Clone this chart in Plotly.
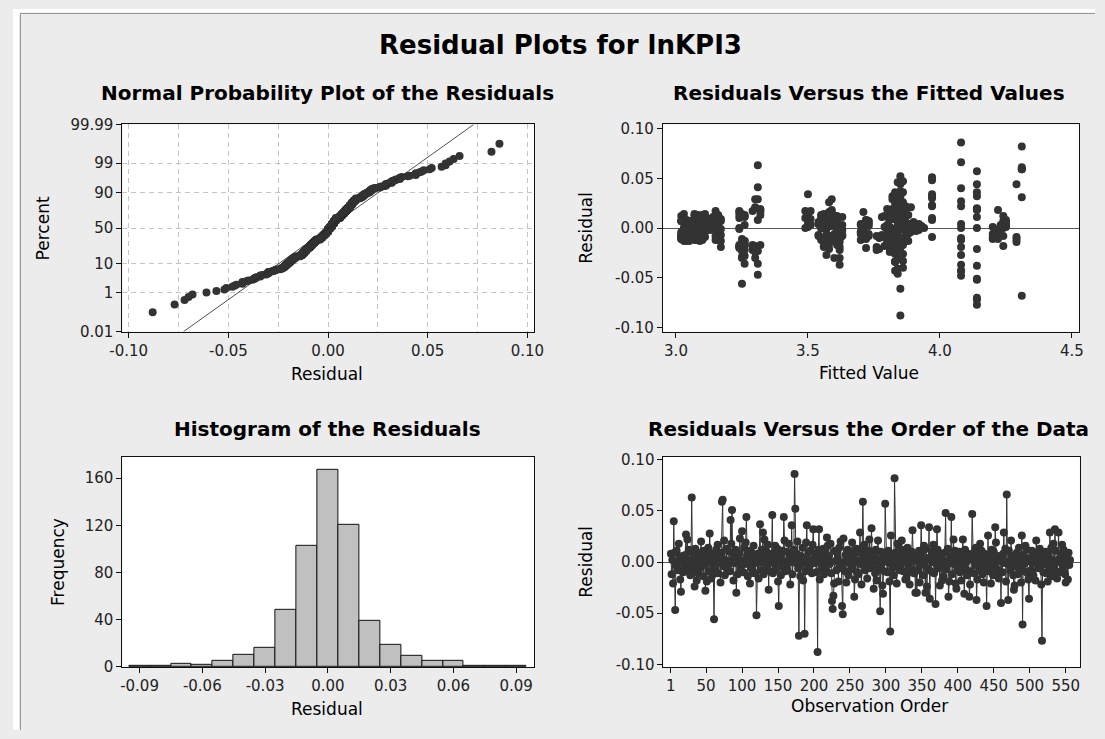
import plotly.graph_objects as go
from statistics import NormalDist

W, H = 1105, 739

# ---------------- data ----------------
# residuals in observation order, in thousandths
resid_milli = [
    8, -12, 2, -21, 40, 9, -47, -3, 11, 0, -8, 18, 4, -17, -29, -1, 6, -10, 3, -6,
    7, 27, -2, 22, -9, 12, 1, -13, 10, 63, -4, 3, -7, -24, 13, 0, -18, 6, -11, 2,
    -6, 9, 20, -1, 4, -14, 11, -3, -28, 7, -19, 1, 14, -9, 28, 2, -16, 8, -2, -12,
    -56, 3, -8, 12, -1, 17, -11, 6, 0, -20, 9, 59, 61, -4, 21, -13, 2, 13, -7, 1,
    -3, 10, -9, 41, 18, 51, 2, -18, 7, -1, 12, -30, 4, -12, 0, 8, 23, -6, -2, 30,
    1, -10, 14, -2, 19, 44, 6, -14, 3, 11, -21, -4, 9, -7, 0, 16, -11, 7, 2, -52,
    -1, 8, -16, 3, 37, -8, 12, 0, 29, -12, 22, 4, -6, 10, -3, 17, -27, 7, -9, 1,
    2, 46, -11, 9, -2, 16, -7, 4, 13, -19, -43, 0, 6, -13, 3, 11, -4, 44, 21, -9,
    -3, 10, -8, 1, 18, 7, -22, 0, 36, -12, 4, 12, 86, 52, -1, 8, 20, -6, -72, 2,
    -14, 6, -2, 14, -18, 3, -70, -9, 19, 36, 0, 9, -7, -4, 11, 2, -11, 17, 32, 1,
    -1, 8, -10, 3, -88, 12, 32, -17, 0, 7, -6, 4, 13, -12, -3, 10, -8, 24, 16, 2,
    6, -2, 18, -11, -38, -46, -33, -21, 11, 1, -8, 9, 3, -19, 14, -6, 20, -4, -43, -51,
    23, 0, -9, 7, -20, 3, 12, -13, -1, 10, 4, -7, 19, -3, 8, -34, -17, 2, 13, -10,
    1, -12, 9, 29, -2, -22, 14, 59, 4, 17, -8, 0, 6, -16, -4, 11, 22, -6, 2, 33,
    -3, 8, -26, 1, -11, 12, -18, 3, 21, -7, 0, -48, 10, -2, -23, -31, 7, -9, 57, 4,
    2, -10, 11, -1, -19, -68, 26, 6, -6, 3, -13, 82, 9, 0, -21, 18, -4, 13, -8, 4,
    -2, 21, 7, -9, 1, 12, -17, 3, -12, 14, -3, 8, -22, 0, -7, 10, 31, 4, -11, 2,
    -30, 6, -30, 1, -8, 11, -20, -3, 36, 9, 2, -13, 16, -1, -30, 13, -24, -6, 4, 34,
    -36, 3, -9, 10, 0, 17, -11, 7, -41, -2, 32, 12, -6, 4, -23, 8, -1, -18, 2, -14,
    1, 9, 48, -7, -3, 13, -34, -19, 0, 6, 44, -12, 3, 22, -2, 11, -21, -26, -8, 4,
    -1, 10, -10, 2, -18, 7, 22, -4, -31, 12, -7, 0, -13, 3, 8, -34, -22, -9, 4, 47,
    2, -11, 9, -3, 14, -37, -17, 1, 6, -8, 18, -1, 11, -12, 4, -20, 8, -6, 0, -43,
    -2, 26, -9, 7, 3, -21, 12, 0, -13, 10, -4, 34, 19, -7, 2, 6, -16, -11, 1, -40,
    3, -10, 8, 29, -1, 13, -19, 66, 0, -37, 11, -3, -8, 21, 4, 6, -13, -27, -23, 2,
    -4, 9, -12, 1, 14, -7, 3, -20, 26, -61, 7, -2, -9, 16, 0, 12, -11, -17, -36, 4,
    2, -8, 11, -1, -13, 6, 3, -18, 21, 0, 9, -6, -3, 13, 4, -22, -77, 8, -10, 1,
    -2, 10, -11, 3, -19, 7, -7, 29, 0, 14, -14, 2, 18, -4, 32, 11, -9, -16, 1, 29,
    3, -10, 8, -1, 17, -7, 12, 0, -12, -20, 6, 4, -17, 9, -3, 2,
]

# fitted values, same order
fitted = [
    3.04, 3.07, 3.84, 3.77, 4.08, 3.58, 3.31, 4.23, 3.15, 3.09, 3.60, 3.86, 3.72, 3.26, 3.25, 3.80, 3.03, 4.21, 3.56, 3.88,
    3.06, 4.08, 3.10, 3.83, 3.62, 4.24, 3.79, 3.17, 3.57, 3.31, 3.05, 3.50, 3.71, 3.81, 3.08, 3.24, 3.30, 3.90, 3.02, 3.59,
    3.84, 3.11, 3.87, 3.14, 3.54, 3.61, 3.78, 4.22, 3.26, 3.07, 3.76, 3.04, 3.25, 3.09, 3.85, 3.73, 3.58, 4.25, 3.92, 3.16,
    3.25, 3.05, 3.80, 3.60, 3.08, 3.29, 4.20, 3.86, 3.55, 3.82, 3.13, 4.31, 4.31, 3.70, 3.89, 3.03, 3.50, 3.10, 3.63, 3.84,
    3.06, 3.49, 3.57, 3.31, 3.85, 3.97, 4.23, 3.79, 3.02, 3.24, 3.59, 3.30, 3.11, 3.15, 3.87, 3.72, 3.97, 3.83, 3.61, 3.97,
    3.07, 3.86, 3.56, 4.21, 3.82, 4.29, 3.04, 3.62, 3.51, 3.26, 4.14, 3.09, 3.17, 3.80, 3.71, 3.32, 3.05, 3.84, 3.58, 4.14,
    3.83, 3.10, 3.25, 3.60, 3.85, 4.24, 3.79, 3.03, 3.31, 3.55, 3.87, 3.14, 3.06, 3.61, 3.91, 3.24, 4.08, 3.73, 3.81, 3.08,
    3.57, 3.84, 3.02, 3.82, 4.22, 3.59, 3.78, 3.11, 3.16, 3.56, 3.83, 3.94, 3.05, 3.26, 3.70, 3.63, 3.07, 3.85, 3.30, 3.80,
    3.09, 3.97, 3.58, 4.25, 4.22, 3.04, 3.29, 3.84, 3.86, 3.08, 3.54, 3.25, 4.08, 3.85, 3.13, 3.97, 4.14, 3.72, 4.14, 3.89,
    3.82, 3.06, 3.62, 3.50, 3.24, 3.10, 4.14, 4.20, 3.80, 3.83, 3.71, 3.60, 3.03, 3.88, 3.15, 3.93, 3.57, 3.51, 3.97, 3.05,
    3.11, 3.85, 3.55, 3.26, 3.85, 3.07, 3.82, 3.86, 4.23, 3.61, 3.02, 4.08, 3.32, 3.16, 3.81, 3.09, 3.73, 3.84, 3.58, 3.04,
    3.08, 3.83, 3.59, 3.80, 4.14, 3.84, 3.86, 3.25, 3.87, 3.05, 4.21, 3.56, 3.14, 3.62, 3.82, 3.10, 3.30, 3.70, 4.08, 4.14,
    3.85, 3.06, 3.60, 3.50, 3.72, 4.24, 3.02, 3.87, 3.57, 3.24, 3.09, 3.17, 4.14, 3.84, 3.72, 3.83, 3.29, 3.91, 3.55, 3.07,
    3.04, 4.08, 3.58, 3.82, 4.22, 3.26, 3.11, 4.31, 3.88, 3.49, 3.63, 3.08, 3.13, 3.84, 3.71, 3.85, 4.08, 3.03, 3.61, 3.83,
    3.05, 3.81, 3.86, 3.56, 3.25, 3.10, 4.24, 4.25, 3.87, 3.07, 3.89, 4.08, 3.59, 3.15, 3.31, 3.84, 3.02, 3.62, 4.14, 3.73,
    3.09, 4.08, 3.57, 3.80, 3.24, 4.31, 3.83, 3.06, 4.20, 3.86, 3.04, 4.31, 3.16, 4.14, 3.81, 3.32, 3.11, 3.88, 3.54, 3.70,
    3.03, 3.84, 3.61, 4.29, 4.23, 3.08, 3.26, 3.87, 3.56, 3.85, 3.05, 3.14, 3.76, 3.49, 3.10, 3.83, 4.31, 3.58, 3.72, 3.90,
    3.60, 3.07, 3.25, 3.86, 3.02, 4.14, 3.84, 4.21, 4.14, 3.55, 3.09, 3.88, 3.71, 3.17, 3.62, 3.24, 3.30, 3.57, 3.85, 3.50,
    3.26, 3.04, 3.83, 3.59, 4.08, 3.86, 3.06, 4.24, 3.84, 3.63, 4.14, 3.11, 3.73, 3.92, 3.82, 3.15, 3.08, 3.56, 3.87, 4.29,
    3.05, 3.51, 3.97, 3.61, 4.22, 3.10, 3.83, 3.25, 3.81, 3.54, 4.14, 3.86, 3.07, 3.97, 3.13, 3.84, 3.58, 3.83, 3.02, 3.71,
    3.09, 3.60, 3.77, 4.25, 3.29, 3.04, 3.85, 3.87, 3.84, 3.26, 3.06, 3.56, 3.80, 3.89, 3.16, 3.83, 3.62, 3.11, 3.72, 3.86,
    3.08, 4.29, 3.57, 3.84, 3.03, 4.08, 3.24, 4.20, 3.86, 3.59, 3.83, 3.05, 3.14, 3.10, 3.88, 3.85, 3.31, 3.70, 3.55, 4.08,
    3.07, 3.58, 3.78, 3.02, 4.23, 3.84, 3.61, 3.87, 3.26, 3.81, 3.09, 3.97, 3.32, 3.54, 3.16, 3.06, 3.83, 4.22, 3.90, 3.86,
    3.04, 3.84, 3.60, 3.30, 3.82, 3.08, 4.08, 4.08, 4.24, 3.62, 3.80, 3.11, 3.15, 3.86, 3.56, 3.73, 3.05, 3.57, 3.25, 3.88,
    3.02, 3.83, 3.59, 3.81, 3.07, 4.21, 3.63, 3.84, 3.86, 3.85, 3.17, 3.10, 3.97, 3.24, 3.92, 3.55, 3.04, 3.61, 3.31, 3.72,
    3.06, 3.76, 3.58, 3.85, 3.09, 4.25, 3.80, 3.29, 3.84, 3.03, 3.13, 3.60, 3.88, 3.26, 3.11, 3.83, 4.14, 3.86, 3.71, 3.57,
    3.08, 3.81, 3.62, 3.84, 3.17, 3.05, 4.22, 3.59, 3.10, 3.82, 3.25, 3.14, 4.14, 3.89, 3.85, 3.56, 3.02, 3.80, 3.50, 3.83,
    3.07, 3.84, 3.61, 4.23, 3.15, 3.04, 3.81, 3.57, 3.70, 3.24, 3.09, 3.88, 3.32, 3.16, 3.83, 3.06,
]

prob_ticks = [0.01, 1, 10, 50, 90, 99, 99.99]
prob_text = ["0.01", "1", "10", "50", "90", "99", "99.99"]
resid_ticks_np = [-0.10, -0.05, 0.0, 0.05, 0.10]
resid_text_np = ["-0.10", "-0.05", "0.00", "0.05", "0.10"]
resid_minor_np = [-0.075, -0.025, 0.025, 0.075]
fit_ticks = [3.0, 3.5, 4.0, 4.5]
fit_text = ["3.0", "3.5", "4.0", "4.5"]
hist_ticks = [-0.09, -0.06, -0.03, 0.0, 0.03, 0.06, 0.09]
hist_text = ["-0.09", "-0.06", "-0.03", "0.00", "0.03", "0.06", "0.09"]
freq_ticks = [0, 40, 80, 120, 160]
order_ticks = [1, 50, 100, 150, 200, 250, 300, 350, 400, 450, 500, 550]

# ---------------- derived ----------------
m = min(len(resid_milli), len(fitted))
resid = [r / 1000.0 for r in resid_milli[:m]]
fit = fitted[:m]
n = len(resid)
order = list(range(1, n + 1))

nd = NormalDist()
sr = sorted(resid)
zq = [nd.inv_cdf((i + 1 - 0.3) / (n + 0.4)) for i in range(n)]
mean = sum(resid) / n
sd = (sum((r - mean) ** 2 for r in resid) / (n - 1)) ** 0.5
zlim = nd.inv_cdf(0.9999)
line_x = [mean - zlim * sd, mean + zlim * sd]
line_z = [-zlim, zlim]

DARK = "#333333"
FONT = "DejaVu Sans"
GRID = "#c4c4c4"


def xd(a, b):
    return [a / W, b / W]


def yd(top, bottom):
    return [1 - bottom / H, 1 - top / H]


fig = go.Figure()

# Normal probability plot
fig.add_trace(go.Scatter(x=sr, y=zq, mode="markers", xaxis="x", yaxis="y",
                         marker=dict(size=8, color=DARK), showlegend=False, hoverinfo="skip"))
fig.add_trace(go.Scatter(x=line_x, y=line_z, mode="lines", xaxis="x", yaxis="y",
                         line=dict(color="#222222", width=0.8), showlegend=False, hoverinfo="skip"))
# Residuals vs fitted
fig.add_trace(go.Scatter(x=fit, y=resid, mode="markers", xaxis="x2", yaxis="y2",
                         marker=dict(size=8, color=DARK), showlegend=False, hoverinfo="skip"))
# Histogram
fig.add_trace(go.Histogram(x=resid, xaxis="x3", yaxis="y3",
                           xbins=dict(start=-0.095, end=0.0951, size=0.01),
                           marker=dict(color="#c0c0c0", line=dict(color="#111111", width=1)),
                           showlegend=False, hoverinfo="skip"))
# Residuals vs order
fig.add_trace(go.Scatter(x=order, y=resid, mode="lines+markers", xaxis="x4", yaxis="y4",
                         line=dict(color=DARK, width=1), marker=dict(size=8, color=DARK),
                         showlegend=False, hoverinfo="skip"))

tickfont = dict(family=FONT, size=15, color="#222222")
common = dict(showline=True, mirror=True, linecolor="#111111", linewidth=1,
              ticks="outside", ticklen=5, tickcolor="#111111", tickfont=tickfont,
              zeroline=False, showgrid=False, fixedrange=True)
nogrid = {k: v for k, v in common.items() if k != "showgrid"}
nozero = {k: v for k, v in common.items() if k != "zeroline"}

fig.update_layout(
    width=W, height=H, autosize=False,
    margin=dict(l=0, r=0, t=0, b=0),
    paper_bgcolor="#ececec", plot_bgcolor="white",
    bargap=0,
    xaxis=dict(domain=xd(111.7, 532), range=[-0.1032, 0.1033], anchor="y",
               tickmode="array", tickvals=resid_ticks_np, ticktext=resid_text_np,
               showgrid=True, gridcolor=GRID, griddash="5px,4px", gridwidth=1,
               minor=dict(tickvals=resid_minor_np, showgrid=True, gridcolor=GRID,
                          griddash="5px,4px", ticks=""),
               **nogrid),
    yaxis=dict(domain=yd(118.3, 330.7), range=[-zlim, zlim], anchor="x",
               tickmode="array", tickvals=[nd.inv_cdf(p / 100) for p in prob_ticks],
               ticktext=prob_text,
               showgrid=True, gridcolor=GRID, griddash="5px,4px", gridwidth=1,
               **nogrid),
    xaxis2=dict(domain=xd(663.6, 1089), range=[2.950, 4.528], anchor="y2",
                tickmode="array", tickvals=fit_ticks, ticktext=fit_text, **common),
    yaxis2=dict(domain=yd(118.3, 330.7), range=[-0.1041, 0.1041], anchor="x2",
                tickmode="array", tickvals=resid_ticks_np, ticktext=resid_text_np,
                zeroline=True, zerolinecolor="#555555", zerolinewidth=1, **nozero),
    xaxis3=dict(domain=xd(111.7, 532), range=[-0.0982, 0.0985], anchor="y3",
                tickmode="array", tickvals=hist_ticks, ticktext=hist_text, **common),
    yaxis3=dict(domain=yd(459, 674.3), range=[0, 178], anchor="x3",
                tickmode="array", tickvals=freq_ticks, **common),
    xaxis4=dict(domain=xd(664.3, 1089.4), range=[-9.3, 569.5], anchor="y4",
                tickmode="array", tickvals=order_ticks, **common),
    yaxis4=dict(domain=yd(459, 674.3), range=[-0.1025, 0.1029], anchor="x4",
                tickmode="array", tickvals=resid_ticks_np, ticktext=resid_text_np,
                zeroline=True, zerolinecolor="#555555", zerolinewidth=1, **nozero),
)

# outer frame like the source window
fig.add_shape(type="rect", xref="paper", yref="paper", x0=0, x1=7 / W, y0=0, y1=1,
              fillcolor="white", line=dict(width=0), layer="above")
fig.add_shape(type="rect", xref="paper", yref="paper", x0=0, x1=1, y0=1 - 4 / H, y1=1,
              fillcolor="white", line=dict(width=0), layer="above")
fig.add_shape(type="line", xref="paper", yref="paper", x0=7.5 / W, x1=7.5 / W, y0=0, y1=1 - 4.5 / H,
              line=dict(color="#8a8a8a", width=1), layer="above")
fig.add_shape(type="line", xref="paper", yref="paper", x0=7.5 / W, x1=1, y0=1 - 4.5 / H, y1=1 - 4.5 / H,
              line=dict(color="#8a8a8a", width=1), layer="above")


def ann(text, x, y, size, bold=False, angle=0):
    fig.add_annotation(text=("<b>%s</b>" % text) if bold else text,
                       x=x / W, y=1 - y / H, xref="paper", yref="paper",
                       xanchor="center", yanchor="middle", showarrow=False, textangle=angle,
                       font=dict(family=FONT, size=size, color="#000000"))


ann("Residual Plots for lnKPI3", 559, 37, 26, bold=True)
ann("Normal Probability Plot of the Residuals", 321, 86, 20, bold=True)
ann("Residuals Versus the Fitted Values", 874, 86, 20, bold=True)
ann("Histogram of the Residuals", 321, 430, 20, bold=True)
ann("Residuals Versus the Order of the Data", 874, 430, 20, bold=True)

ann("Residual", 321, 374, 17)
ann("Fitted Value", 874, 373, 17)
ann("Residual", 321, 717, 17)
ann("Observation Order", 875, 714, 17)
ann("Percent", 31, 224.5, 17, angle=-90)
ann("Frequency", 46, 566.7, 17, angle=-90)
ann("Residual", 585, 224.5, 17, angle=-90)
ann("Residual", 585, 566.7, 17, angle=-90)

fig.write_html("out.html", config={"displayModeBar": False},
               post_script="document.body.style.margin='0px';"
                           "document.body.style.overflow='hidden';"
                           "document.documentElement.style.overflow='hidden';")
